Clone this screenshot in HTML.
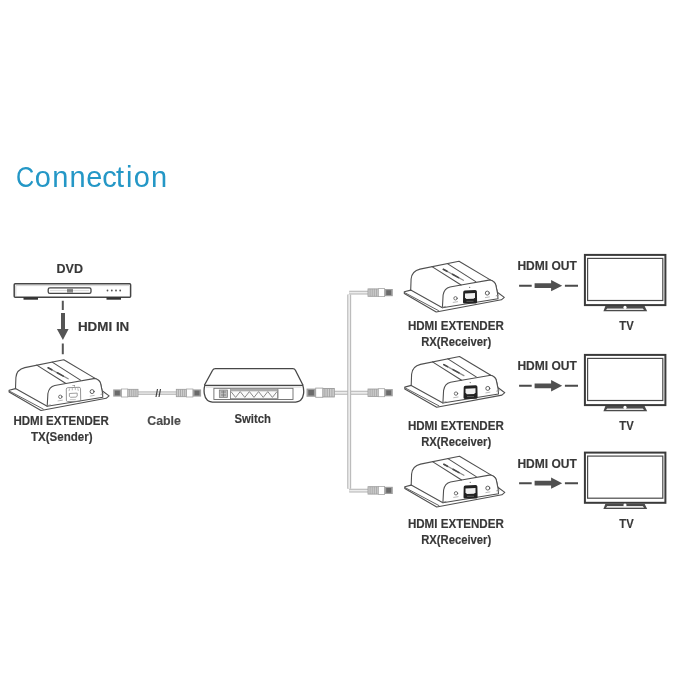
<!DOCTYPE html>
<html><head><meta charset="utf-8">
<style>
html,body{margin:0;padding:0;background:#fff;width:700px;height:700px;overflow:hidden}
svg{display:block;filter:blur(0.4px)}
text{font-family:"Liberation Sans",sans-serif}
.lb{font-weight:bold;fill:#383838;font-size:12px;stroke:#383838;stroke-width:0.15px}
</style></head>
<body>
<svg width="700" height="700" viewBox="0 0 700 700">
<defs>
  <!-- extender device, local coords -->
  <g id="dev" fill="none" stroke="#505050" stroke-width="1.1" stroke-linejoin="round" stroke-linecap="round">
    <!-- flange -->
    <path d="M4.3,36.8 L10.7,35.1 M4.3,36.8 L4.3,38.6 L36.2,57 L101.4,44.8 L104.3,42.4 L98,37.7" />
    <path d="M4.6,37.6 L38.5,55.6" stroke-width="0.9"/>
    <!-- body silhouette -->
    <path d="M10.7,35.1 L11.1,24 C11.6,18 15,15.3 20,14.1 L59,6.2 L90.3,24.9 C93.5,26 95.3,27.5 95.8,30 L97.6,38.6" fill="#fff"/>
    <!-- front face -->
    <path d="M42.4,52.7 L43.1,40 C44,35 46.5,32.8 50,32 L61.1,30 L90.3,24.9 C93.5,26 95.3,27.5 95.8,30 L97.6,38.6 L98,43.7 Z" fill="#fff"/>
    <path d="M10.7,35.1 L42.4,52.7"/>
    <!-- ridges -->
    <path d="M32,11.6 L61.1,30 M47.4,8.6 L75.7,26.6"/>
    <path d="M43.3,14.3 L63.4,25.3" stroke="#8a8a8a" stroke-width="1.3"/><path d="M43.3,14.3 L47,16.3 M52.5,19.3 L58.5,22.6" stroke="#4a4a4a" stroke-width="1.6"/>
    <!-- jacks -->
    <circle cx="55.5" cy="43.3" r="1.7" stroke-width="0.8"/>
    <circle cx="87.3" cy="38.1" r="2" stroke-width="0.9"/>
    <circle cx="69.7" cy="32.3" r="0.6" fill="#555" stroke="none"/>
    <path d="M53.2,47.4 L57.6,46.7 M85.4,42.6 L89.4,41.9" stroke="#aaa" stroke-width="0.8"/>
    <path d="M96.2,40.8 L98.6,40.2 M42.5,52.2 L45.5,51.4" stroke="#888" stroke-width="0.8"/>
  </g>
  <g id="rxport">
    <path d="M63.2,37.2 Q63.2,35.6 64.8,35.4 L75.2,34.9 Q76.8,34.9 76.9,36.4 L77.1,47 Q77.1,48.3 75.8,48.4 L64.3,48.6 Q63,48.6 63,47.3 Z" fill="#222"/>
    <path d="M65,38.4 L75,38 L75,42.2 L73.6,43.8 L66.4,44 L65,42.5 Z" fill="#f0f0f0"/>
    <path d="M66.5,46.3 H73.5" stroke="#888" stroke-width="0.6"/>
  </g>
  <g id="txport" fill="none" stroke="#7a7a7a" stroke-width="0.8">
    <path d="M61.5,35.6 Q61.5,34.3 63,34.2 L74.3,33.8 Q75.7,33.8 75.7,35.2 L75.9,46.6 Q75.9,47.8 74.6,47.8 L62.9,48 Q61.6,48 61.6,46.8 Z"/>
    <path d="M64.6,40 L72.4,39.6 L72.4,42.7 L71.2,43.6 L65.8,43.8 L64.6,42.9 Z" stroke="#888"/>
    <path d="M64.2,37.6 L64.8,35 M67.5,36.8 V34.6 M70.5,36.6 V34.4 M73.5,37.4 L73,34.8" stroke="#999" stroke-width="0.7"/>
    <circle cx="68.3" cy="32" r="0.6" fill="#777" stroke="none"/>
    <path d="M65,46 H71" stroke="#aaa" stroke-width="0.6"/>
  </g>
  <!-- rj45 connector pointing right, local: x 0..25, center y 0 -->
  <g id="rjR">
    <rect x="0" y="-3.7" width="10.3" height="7.4" fill="#cfcfcf" stroke="#9a9a9a" stroke-width="0.8"/>
    <path d="M2.1,-3.7 V3.7 M4.2,-3.7 V3.7 M6.3,-3.7 V3.7 M8.4,-3.7 V3.7" stroke="#a0a0a0" stroke-width="0.8"/>
    <rect x="10.3" y="-4" width="6.3" height="8" fill="#fff" stroke="#a5a5a5" stroke-width="0.8"/>
    <rect x="16.6" y="-3.6" width="8.2" height="7.2" fill="#a0a0a0"/>
    <rect x="18.2" y="-2.4" width="5" height="4.8" fill="#6a6a6a"/>
  </g>
  <g id="tv">
    <rect x="584.9" y="254.9" width="80.5" height="50.2" fill="none" stroke="#3a3a3a" stroke-width="2"/>
    <rect x="587.6" y="258.4" width="75.2" height="42.1" fill="none" stroke="#4a4a4a" stroke-width="1.2"/>
    <path d="M605.4,306 H644.6 L647.2,311.3 H603.4 Z" fill="#4a4a4a"/>
    <path d="M607.2,308.4 H642.8 L644,310 H606 Z" fill="#e8e8e8"/>
    <circle cx="625" cy="307.4" r="1.6" fill="#fff"/>
  </g>
  <g id="hout">
    <path d="M519.1,285.7 H531.7 M564.9,285.7 H578" stroke="#4a4a4a" stroke-width="2"/>
    <path d="M534.6,283.3 H551.1 V280 L562.2,285.7 L551.1,291.3 V288.1 H534.6 Z" fill="#505050"/>
  </g>
</defs>

<!-- Title -->
<text transform="translate(16.1,186.8) scale(0.87,1.045)" x="0" y="0" font-size="29" fill="#2497c6">C</text><text y="186.8" font-size="29" fill="#2497c6" x="34.64 52.21 69.61 86.36 102.17 116.01 125.94 133.69 151.01">onnection</text>

<!-- DVD -->
<text class="lb" x="56.6" y="273" textLength="26.4" lengthAdjust="spacingAndGlyphs">DVD</text>
<rect x="14.2" y="283.7" width="116.4" height="13.6" rx="1" fill="#fff" stroke="#454545" stroke-width="1.5"/>
<path d="M15.8,296 V285.6 H129" fill="none" stroke="#c8c8c8" stroke-width="0.8"/>
<rect x="48.2" y="287.8" width="42.8" height="5.6" rx="1.6" fill="none" stroke="#454545" stroke-width="1.3"/>
<path d="M50,290.6 H89" stroke="#ccc" stroke-width="0.7"/>
<rect x="67" y="288.5" width="6" height="4.2" fill="#9a9a9a"/>
<path d="M68,288.5 V292.7 M70,288.5 V292.7 M72,288.5 V292.7 M67,290.6 H73" stroke="#666" stroke-width="0.5"/>
<rect x="23.5" y="297.3" width="14.5" height="2.4" fill="#333"/>
<rect x="106.5" y="297.3" width="14.5" height="2.4" fill="#333"/>
<g fill="#555"><circle cx="107.5" cy="290.5" r="0.9"/><circle cx="111.8" cy="290.5" r="0.9"/><circle cx="116" cy="290.5" r="0.9"/><circle cx="120.2" cy="290.5" r="0.9"/></g>

<!-- HDMI IN arrow -->
<path d="M62.8,300.7 V310 M62.8,343.6 V354.3" stroke="#555" stroke-width="2"/>
<path d="M61,312.9 H65 V329 H68.6 L62.9,340 L56.9,329 H61 Z" fill="#555"/>
<text class="lb" x="77.9" y="331.4" textLength="51.4" lengthAdjust="spacingAndGlyphs">HDMI IN</text>

<!-- TX device -->
<g transform="translate(4.8,353.5)"><use href="#dev"/><use href="#txport"/></g>
<text class="lb" x="13.4" y="424.7" textLength="95.5" lengthAdjust="spacingAndGlyphs">HDMI EXTENDER</text>
<text class="lb" x="30.9" y="441.4" textLength="61.7" lengthAdjust="spacingAndGlyphs">TX(Sender)</text>

<!-- cable TX-switch -->
<path d="M137.5,393.1 H177" stroke="#c2c2c2" stroke-width="3.6"/><path d="M137.5,393.1 H177" stroke="#e8e8e8" stroke-width="1.4"/>
<path d="M157.5,389 L156,397 M160.5,389 L159,397" stroke="#444" stroke-width="1.2"/>
<g transform="translate(138,393) scale(-1,1)"><use href="#rjR"/></g>
<g transform="translate(176.3,393)"><use href="#rjR"/></g>
<text x="147.3" y="424.8" font-size="12" font-weight="bold" fill="#4c4c4c" stroke="#4c4c4c" stroke-width="0.15" textLength="33.6" lengthAdjust="spacingAndGlyphs">Cable</text>

<!-- switch -->
<path d="M204.4,385.2 L212.6,370.2 Q213.4,368.6 215.4,368.6 H292.8 Q294.6,368.6 295.4,370.2 L303,385.2" fill="#fff" stroke="#474747" stroke-width="1.3" stroke-linejoin="round"/>
<path d="M204.8,385.4 H302.8 C304.6,391 303.6,397.5 300.8,400 C299,401.8 296.5,402.2 293,402.2 H215 C211.5,402.2 209,401.8 207.2,400 C204.4,397.5 203.2,391 204.8,385.4 Z" fill="#fff" stroke="#474747" stroke-width="1.3"/>
<path d="M206,387 H301.6" stroke="#bbb" stroke-width="0.7"/>
<rect x="213.9" y="388.3" width="79.1" height="11.2" fill="none" stroke="#6a6a6a" stroke-width="0.9"/>
<rect x="219.3" y="390" width="8.2" height="7.5" fill="#bdbdbd" stroke="#777" stroke-width="0.7"/>
<path d="M221,392 H226 M221,395 H226 M223.4,390.5 V397" stroke="#666" stroke-width="0.6"/>
<rect x="230.4" y="388.7" width="47" height="10" fill="#fafafa" stroke="#7a7a7a" stroke-width="0.8"/>
<rect x="230.4" y="388.7" width="47" height="2.6" fill="#aaa"/>
<path d="M231.0,391.6 L235.6,397.4 L240.2,391.6 L244.8,397.4 L249.4,391.6 L254.0,397.4 L258.6,391.6 L263.2,397.4 L267.8,391.6 L272.4,397.4 L277.0,391.6" fill="none" stroke="#8a8a8a" stroke-width="1"/>
<path d="M278.2,389.2 V398.8" stroke="#888" stroke-width="0.7"/>
<text class="lb" x="234.5" y="423" textLength="36.5" lengthAdjust="spacingAndGlyphs">Switch</text>

<!-- branch cable -->
<path d="M334.3,392.7 H368 M349.2,292.6 H368 M349.2,490.6 H368" fill="none" stroke="#b4b4b4" stroke-width="3.9"/>
<path d="M334.3,392.7 H368 M349.2,292.6 H368 M349.2,490.6 H368" fill="none" stroke="#ececec" stroke-width="1.9"/>
<path d="M349.2,294.5 V488.7" fill="none" stroke="#b4b4b4" stroke-width="3.9"/>
<path d="M349.2,294.5 V488.7" fill="none" stroke="#ececec" stroke-width="1.9"/>
<path d="M347.3,292.6 V492.5 M351.1,490.6 V392.7" fill="none" stroke="#c2c2c2" stroke-width="0.01"/>
<g transform="translate(334.3,392.7) scale(-1.12,1.15)"><use href="#rjR"/></g>
<g transform="translate(368,292.6)"><use href="#rjR"/></g>
<g transform="translate(368,392.7)"><use href="#rjR"/></g>
<g transform="translate(368,490.4)"><use href="#rjR"/></g>

<!-- RX devices -->
<g transform="translate(400,255)"><use href="#dev"/><use href="#rxport"/></g>
<g transform="translate(400.5,350.3)"><use href="#dev"/><use href="#rxport"/></g>
<g transform="translate(400.5,450)"><use href="#dev"/><use href="#rxport"/></g>
<text class="lb" x="407.9" y="330.3" textLength="95.9" lengthAdjust="spacingAndGlyphs">HDMI EXTENDER</text>
<text class="lb" x="421.2" y="346.4" textLength="70" lengthAdjust="spacingAndGlyphs">RX(Receiver)</text>
<text class="lb" x="407.9" y="430.3" textLength="95.9" lengthAdjust="spacingAndGlyphs">HDMI EXTENDER</text>
<text class="lb" x="421.2" y="446.4" textLength="70" lengthAdjust="spacingAndGlyphs">RX(Receiver)</text>
<text class="lb" x="407.9" y="527.8" textLength="95.9" lengthAdjust="spacingAndGlyphs">HDMI EXTENDER</text>
<text class="lb" x="421.2" y="543.9" textLength="70" lengthAdjust="spacingAndGlyphs">RX(Receiver)</text>

<!-- HDMI OUT + TVs -->
<text class="lb" x="517.4" y="269.7" textLength="59.5" lengthAdjust="spacingAndGlyphs">HDMI OUT</text>
<text class="lb" x="517.4" y="370.2" textLength="59.5" lengthAdjust="spacingAndGlyphs">HDMI OUT</text>
<text class="lb" x="517.4" y="468" textLength="59.5" lengthAdjust="spacingAndGlyphs">HDMI OUT</text>
<use href="#hout"/>
<use href="#hout" transform="translate(0,100.1)"/>
<use href="#hout" transform="translate(0,197.5)"/>
<use href="#tv"/>
<use href="#tv" transform="translate(0,100)"/>
<use href="#tv" transform="translate(0,197.7)"/>
<text class="lb" x="619.3" y="330" textLength="14.3" lengthAdjust="spacingAndGlyphs">TV</text>
<text class="lb" x="619.3" y="430" textLength="14.3" lengthAdjust="spacingAndGlyphs">TV</text>
<text class="lb" x="619.3" y="527.5" textLength="14.3" lengthAdjust="spacingAndGlyphs">TV</text>
</svg>
</body></html>
